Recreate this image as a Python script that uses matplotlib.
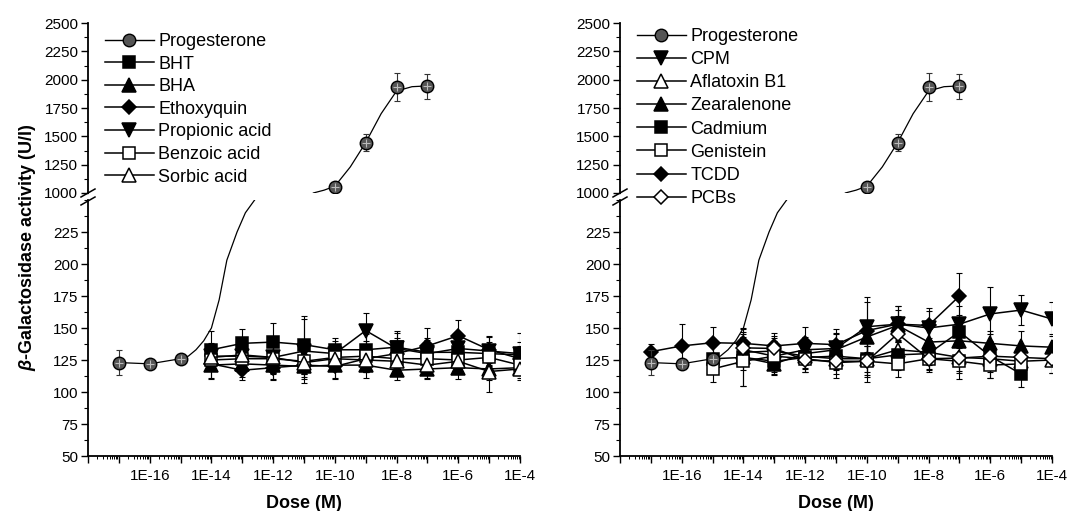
import numpy as np
import matplotlib
matplotlib.use('Agg')
import matplotlib.pyplot as plt
from matplotlib.ticker import FixedLocator, FixedFormatter, LogLocator, MultipleLocator, NullFormatter

plt.rcParams['font.family'] = ['Liberation Sans', 'DejaVu Sans']
plt.rcParams['mathtext.fontset'] = 'custom'
plt.rcParams['mathtext.it'] = 'Liberation Sans:italic:bold'
plt.rcParams['mathtext.rm'] = 'Liberation Sans:bold'
plt.rcParams['mathtext.bf'] = 'Liberation Sans:bold'

# ---------------- data ----------------
xtick_exps = [-16, -14, -12, -10, -8, -6, -4]
xtick_labels = ['1E-16', '1E-14', '1E-12', '1E-10', '1E-8', '1E-6', '1E-4']
upper_yticks = [1000, 1250, 1500, 1750, 2000, 2250, 2500]
lower_yticks = [50, 75, 100, 125, 150, 175, 200, 225]

prog_exp = [-17, -16, -15, -10, -9, -8, -7]
prog_vals = [123, 122, 126, 1053, 1445, 1933, 1942]
prog_err = [10, 3, 4, 20, 75, 125, 110]
# smooth fitted curve of progesterone
prog_fit_exp = [-17, -16, -15, -14.75, -14.5, -14.25, -14.0, -13.75, -13.5, -13.17, -12.9, -12.6, -12.3,
                -11.0, -10.7, -10.35, -10.0, -9.5, -9.0, -8.5, -8.0, -7.5, -7.0]
prog_fit_vals = [123, 122, 126, 128, 133, 140, 150, 172, 203, 225, 240, 250, 258,
                 900, 1000, 1025, 1060, 1230, 1445, 1700, 1900, 1938, 1945]

left_exp = [-14, -13, -12, -11, -10, -9, -8, -7, -6, -5, -4]
bht = [133, 138, 139, 137, 133, 133, 135, 131, 131, 130, 129]
bht_err = [15, 11, 15, 22, 9, 12, 13, 10, 9, 9, 10]
bha = [121, 122, 121, 120, 121, 121, 117, 118, 119, 118, 119]
bha_err = [10, 10, 12, 10, 10, 10, 8, 8, 9, 9, 8]
ethoxyquin = [122, 117, 119, 121, 120, 126, 130, 136, 144, 133, 126]
ethoxyquin_err = [12, 8, 9, 9, 10, 10, 12, 14, 12, 10, 10]
propionic = [128, 128, 127, 132, 130, 148, 134, 130, 134, 132, 130]
propionic_err = [10, 10, 12, 25, 10, 14, 12, 12, 12, 12, 16]
benzoic = [125, 126, 126, 124, 127, 128, 126, 126, 125, 127, 121]
benzoic_err = [8, 9, 12, 10, 9, 12, 10, 9, 9, 10, 8]
sorbic = [127, 129, 127, 123, 126, 125, 124, 121, 124, 116, 118]
sorbic_err = [9, 9, 12, 9, 9, 9, 9, 10, 10, 16, 9]

tcdd_exp = [-17, -16, -15, -14, -13, -12, -11, -10, -9, -8, -7]
tcdd = [131.5, 136, 138.5, 138, 136, 138, 137, 148, 153, 152, 175]
tcdd_err = [6, 17, 12, 12, 10, 13, 12, 22, 14, 14, 18]
late_exp = [-14, -13, -12, -11, -10, -9, -8, -7, -6, -5, -4]
early_exp = [-15, -14, -13, -12, -11, -10, -9, -8, -7, -6, -5]
cpm = [133, 128, 133, 134, 151, 153, 150, 153, 161, 164, 157]
cpm_err = [12, 9, 10, 12, 23, 14, 13, 14, 21, 12, 13]
aflatoxin = [131, 132, 128, 126, 126, 133, 131, 127, 126, 124, 125]
aflatoxin_err = [10, 10, 9, 9, 10, 10, 10, 12, 10, 10, 10]
zearalenone = [127, 122, 130, 133, 143, 152, 139, 140, 138, 136, 135]
zearalenone_err = [10, 9, 9, 12, 12, 12, 10, 12, 10, 12, 10]
cadmium = [126, 127, 124, 127, 128, 126, 129, 130, 147, 128, 114]
cadmium_err = [10, 22, 10, 9, 10, 13, 12, 12, 13, 10, 10]
genistein = [118, 124, 128, 126, 123, 124, 122, 126, 124, 121, 122]
genistein_err = [10, 19, 12, 10, 12, 12, 10, 10, 14, 10, 10]
pcbs = [134.5, 134, 125, 124, 124, 145.5, 126, 126.5, 128, 127, 126]
pcbs_err = [12, 10, 9, 10, 16, 14, 9, 10, 17, 10, 11]

left_series = [
    ('BHT', left_exp, bht, bht_err, 's', 'black'),
    ('BHA', left_exp, bha, bha_err, '^', 'black'),
    ('Ethoxyquin', left_exp, ethoxyquin, ethoxyquin_err, 'D', 'black'),
    ('Propionic acid', left_exp, propionic, propionic_err, 'v', 'black'),
    ('Benzoic acid', left_exp, benzoic, benzoic_err, 's', 'white'),
    ('Sorbic acid', left_exp, sorbic, sorbic_err, '^', 'white'),
]
right_series = [
    ('CPM', late_exp, cpm, cpm_err, 'v', 'black'),
    ('Aflatoxin B1', late_exp, aflatoxin, aflatoxin_err, '^', 'white'),
    ('Zearalenone', late_exp, zearalenone, zearalenone_err, '^', 'black'),
    ('Cadmium', early_exp, cadmium, cadmium_err, 's', 'black'),
    ('Genistein', early_exp, genistein, genistein_err, 's', 'white'),
    ('TCDD', tcdd_exp, tcdd, tcdd_err, 'D', 'black'),
    ('PCBs', late_exp, pcbs, pcbs_err, 'D', 'white'),
]

# ---------------- figure ----------------
W, H = 1069, 511
fig = plt.figure(figsize=(W / 100, H / 100), dpi=100)

def fx(px):
    return px / W

def fy(py):
    return 1 - py / H

MS = {'o': 8.5, 's': 8.5, '^': 9.5, 'v': 9.5, 'D': 7.5}


def draw_series(ax, exps, vals, errs, marker, face, zorder=3):
    x = 10.0 ** np.array(exps, dtype=float)
    ax.errorbar(x, vals, yerr=errs, fmt='none', ecolor='black', elinewidth=0.8,
                capsize=2.5, capthick=0.8, zorder=zorder - 1)
    ln, = ax.plot(x, vals, color='black', lw=1.1, marker=marker, ms=MS[marker],
                  mfc=face, mec='black', mew=1.1, zorder=zorder)
    return ln


def draw_prog(ax):
    xf = 10.0 ** np.array(prog_fit_exp)
    ax.plot(xf, prog_fit_vals, color='black', lw=0.9, zorder=2)
    x = 10.0 ** np.array(prog_exp, dtype=float)
    ax.errorbar(x, prog_vals, yerr=prog_err, fmt='none', ecolor='#333333', elinewidth=0.8,
                capsize=2.5, capthick=0.8, zorder=4)
    ax.plot(x, prog_vals, ls='none', marker='o', ms=9, mfc='#555555', mec='black', mew=1.0, zorder=5)
    ax.plot(x, prog_vals, ls='none', marker='+', ms=6, mec='#bbbbbb', mew=0.8, zorder=6)


def style_axes(ax_up, ax_lo):
    for ax in (ax_up, ax_lo):
        ax.set_xscale('log')
        ax.set_xlim(1e-18, 1e-4)
        ax.spines['top'].set_visible(False)
        ax.spines['right'].set_visible(False)
        ax.spines['left'].set_linewidth(1.3)
        ax.spines['bottom'].set_linewidth(1.3)
        ax.tick_params(axis='y', which='major', length=5, width=1.0, labelsize=11, pad=2, direction='out')
        ax.tick_params(axis='y', which='minor', length=3, width=0.8, direction='out')
        ax.set_facecolor('none')
    ax_up.spines['bottom'].set_visible(False)
    ax_up.tick_params(axis='x', which='both', bottom=False, labelbottom=False)
    ax_up.set_ylim(1000, 2500)
    ax_up.yaxis.set_major_locator(FixedLocator(upper_yticks))
    ax_up.yaxis.set_minor_locator(MultipleLocator(125))
    ax_lo.set_ylim(50, 250)
    ax_lo.yaxis.set_major_locator(FixedLocator(lower_yticks))
    ax_lo.yaxis.set_minor_locator(MultipleLocator(12.5))
    ax_lo.xaxis.set_major_locator(FixedLocator([10.0 ** e for e in range(-18, -3)]))
    labels = []
    for e in range(-18, -3):
        labels.append(xtick_labels[xtick_exps.index(e)] if e in xtick_exps else '')
    ax_lo.xaxis.set_major_formatter(FixedFormatter(labels))
    ax_lo.xaxis.set_minor_locator(LogLocator(base=10, subs=np.arange(2, 10), numticks=100))
    ax_lo.xaxis.set_minor_formatter(NullFormatter())
    ax_lo.tick_params(axis='x', which='major', length=5, width=1.0, labelsize=11, pad=4, direction='out')
    ax_lo.tick_params(axis='x', which='minor', length=2.5, width=0.7, direction='out')


def break_marks(x_axis_px):
    for yb in (193, 201):
        fig.add_artist(plt.Line2D([fx(x_axis_px - 7), fx(x_axis_px + 7)],
                                  [fy(yb + 4), fy(yb - 4)], color='black', lw=1.1))


panels = [
    (88, left_series, (105, 33), 0.31),
    (620, right_series, (637, 28), 0.34),
]

for x0, series, (lgx, lgy), lsp in panels:
    w = 432
    ax_up = fig.add_axes([fx(x0), fy(193), fx(w), fy(23) - fy(193)])
    ax_lo = fig.add_axes([fx(x0), fy(456), fx(w), fy(200) - fy(456)])
    style_axes(ax_up, ax_lo)
    handles = []
    for ax in (ax_up, ax_lo):
        draw_prog(ax)
    h_prog = plt.Line2D([], [], color='black', lw=1.0, marker='o', ms=9, mfc='#555555', mec='black')
    handles.append((h_prog, 'Progesterone'))
    for name, exps, vals, errs, mk, face in series:
        ln = None
        for ax in (ax_up, ax_lo):
            ln = draw_series(ax, exps, vals, errs, mk, face)
        handles.append((ln, name))
    leg = fig.legend([h for h, _ in handles], [n for _, n in handles],
                     loc='upper left', bbox_to_anchor=(fx(lgx), fy(lgy)),
                     frameon=False, fontsize=13, handlelength=2.7, handletextpad=0.25,
                     labelspacing=lsp, borderpad=0, borderaxespad=0)
    break_marks(x0)
    fig.text(fx(x0 + w / 2), fy(504), 'Dose (M)', ha='center', va='center',
             fontsize=13, fontweight='bold')

fig.text(fx(28), fy(247), r'$\beta$-Galactosidase activity (U/l)', rotation=90,
         ha='center', va='center', fontsize=13, fontweight='bold')

fig.savefig('out.png', dpi=100)
